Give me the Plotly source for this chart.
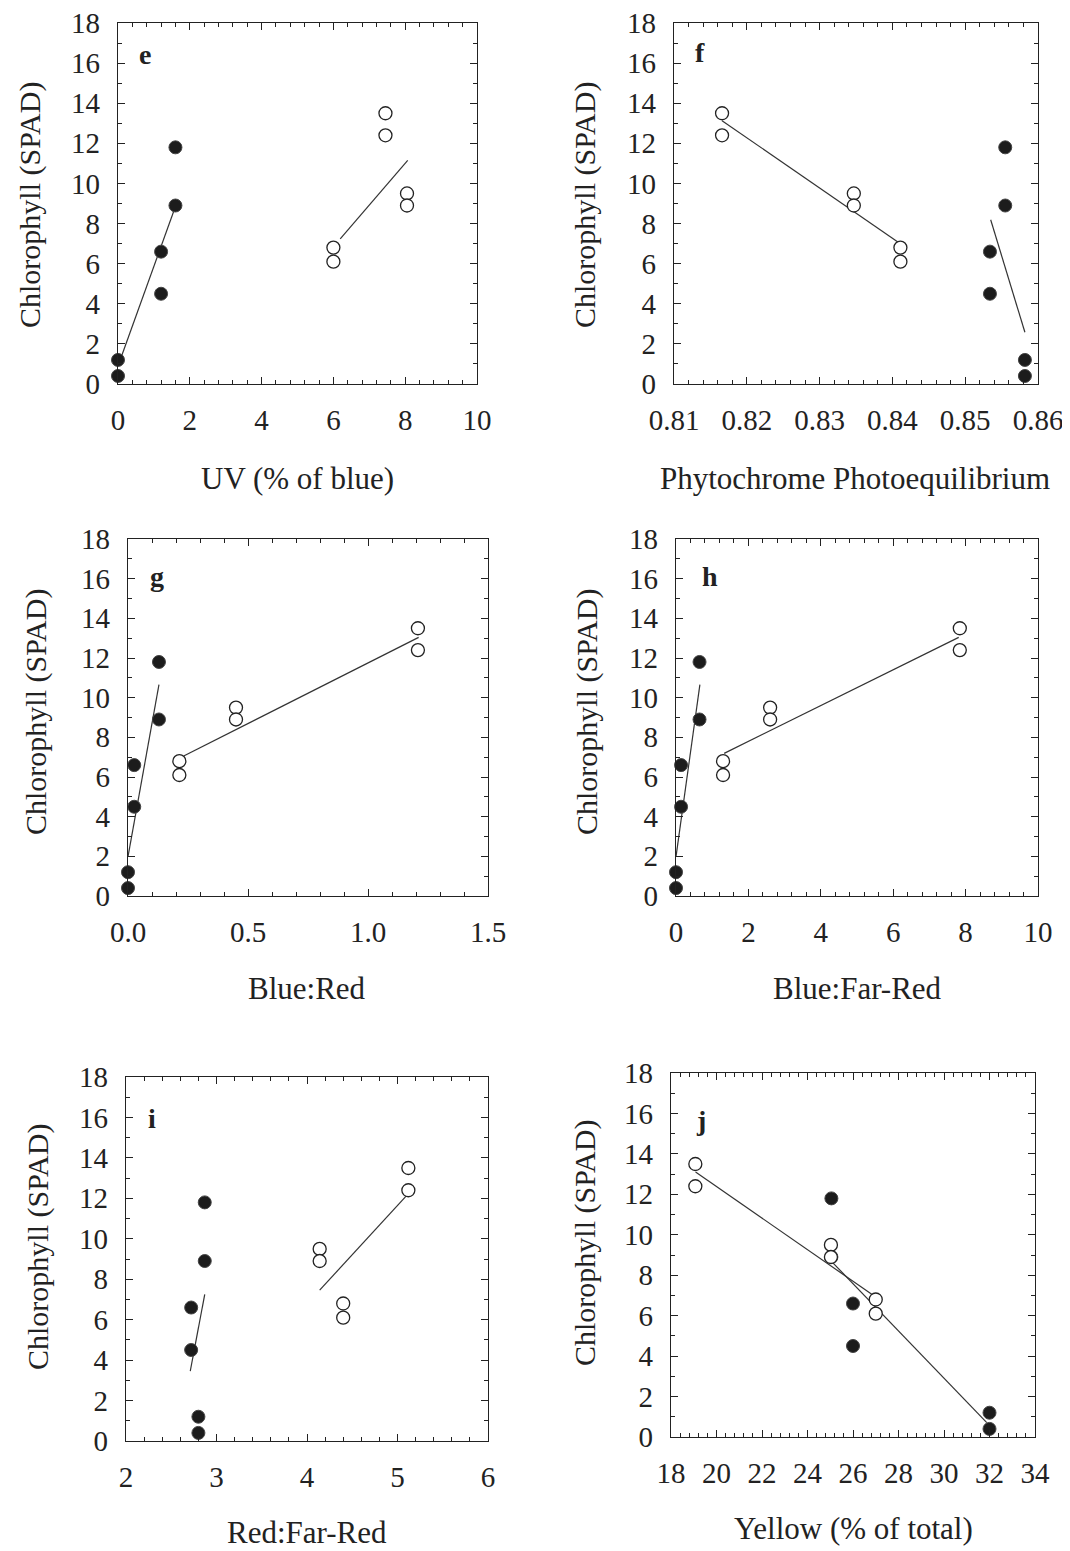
import plotly.graph_objects as go

# the page body has an 8px margin, so the figure is drawn 8px in from the window corner
OFF = 8
W, H = 1070 - OFF, 1551 - OFF

# Chlorophyll (SPAD) values, shared by all panels (pairs per treatment)
chl_filled = [1.2, 0.4, 6.6, 4.5, 11.8, 8.9]
chl_open = [6.8, 6.1, 13.5, 12.4, 9.5, 8.9]

# Panel e: UV (% of blue)
uv_filled = [0.0, 0.0, 1.2, 1.2, 1.6, 1.6]
uv_open = [6.0, 6.0, 7.45, 7.45, 8.05, 8.05]
uv_fit_filled_x = [0.03, 1.59]
uv_fit_filled_y = [1.05, 8.8]
uv_fit_open_x = [6.19, 8.07]
uv_fit_open_y = [7.24, 11.15]

# Panel f: Phytochrome photoequilibrium
pe_filled = [0.8582, 0.8582, 0.8534, 0.8534, 0.8555, 0.8555]
pe_open = [0.8411, 0.8411, 0.8166, 0.8166, 0.8347, 0.8347]
pe_fit_filled_x = [0.8535, 0.8582]
pe_fit_filled_y = [8.19, 2.58]
pe_fit_open_x = [0.8166, 0.8408]
pe_fit_open_y = [13.13, 7.07]

# Panel g: Blue:Red
br_filled = [0.0, 0.0, 0.026, 0.026, 0.129, 0.129]
br_open = [0.214, 0.214, 1.208, 1.208, 0.45, 0.45]
br_fit_filled_x = [0.0, 0.129]
br_fit_filled_y = [1.98, 10.66]
br_fit_open_x = [0.232, 1.211]
br_fit_open_y = [7.06, 13.04]

# Panel h: Blue:Far-Red
bfr_filled = [0.0, 0.0, 0.14, 0.14, 0.65, 0.65]
bfr_open = [1.3, 1.3, 7.84, 7.84, 2.6, 2.6]
bfr_fit_filled_x = [0.0, 0.66]
bfr_fit_filled_y = [1.98, 10.66]
bfr_fit_open_x = [1.33, 7.81]
bfr_fit_open_y = [7.19, 13.04]

# Panel i: Red:Far-Red
rfr_filled = [2.80, 2.80, 2.72, 2.72, 2.87, 2.87]
rfr_open = [4.40, 4.40, 5.12, 5.12, 4.14, 4.14]
rfr_fit_filled_x = [2.71, 2.87]
rfr_fit_filled_y = [3.46, 7.25]
rfr_fit_open_x = [4.14, 5.10]
rfr_fit_open_y = [7.46, 12.13]

# Panel j: Yellow (% of total)
yel_filled = [32.0, 32.0, 26.0, 26.0, 25.05, 25.05]
yel_open = [27.0, 27.0, 19.07, 19.07, 25.03, 25.03]
yel_fit_filled_x = [25.0, 31.88]
yel_fit_filled_y = [8.75, 0.71]
yel_fit_open_x = [19.08, 27.03]
yel_fit_open_y = [13.1, 6.9]

FONT = "Liberation Serif"
INK = "#222222"

# panel boxes in window pixels: (left, right, top, bottom)
panels = [
    dict(letter="e", box=(118, 477, 23, 384), xr=[0, 10], dt=2, mdt=0.4, fmt="",
         xf=uv_filled, xo=uv_open, ffx=uv_fit_filled_x, ffy=uv_fit_filled_y,
         fox=uv_fit_open_x, foy=uv_fit_open_y,
         xtitle="UV (% of blue)", xt_pos=(297, 479), yt_pos=(30, 205), let_pos=(145, 55)),
    dict(letter="f", box=(674, 1038, 23, 384), xr=[0.81, 0.86], dt=0.01, mdt=0.002, fmt=".2f",
         xf=pe_filled, xo=pe_open, ffx=pe_fit_filled_x, ffy=pe_fit_filled_y,
         fox=pe_fit_open_x, foy=pe_fit_open_y,
         xtitle="Phytochrome Photoequilibrium", xt_pos=(855, 479), yt_pos=(585, 205), let_pos=(700, 52)),
    dict(letter="g", box=(128, 488, 539, 896), xr=[0, 1.5], dt=0.5, mdt=0.1, fmt=".1f",
         xf=br_filled, xo=br_open, ffx=br_fit_filled_x, ffy=br_fit_filled_y,
         fox=br_fit_open_x, foy=br_fit_open_y,
         xtitle="Blue:Red", xt_pos=(307, 988), yt_pos=(36, 712), let_pos=(157, 577)),
    dict(letter="h", box=(676, 1038, 539, 896), xr=[0, 10], dt=2, mdt=0.4, fmt="",
         xf=bfr_filled, xo=bfr_open, ffx=bfr_fit_filled_x, ffy=bfr_fit_filled_y,
         fox=bfr_fit_open_x, foy=bfr_fit_open_y,
         xtitle="Blue:Far-Red", xt_pos=(857, 988), yt_pos=(587, 712), let_pos=(710, 577)),
    dict(letter="i", box=(126, 488, 1077, 1441), xr=[2, 6], dt=1, mdt=0.2, fmt="",
         xf=rfr_filled, xo=rfr_open, ffx=rfr_fit_filled_x, ffy=rfr_fit_filled_y,
         fox=rfr_fit_open_x, foy=rfr_fit_open_y,
         xtitle="Red:Far-Red", xt_pos=(307, 1532), yt_pos=(38, 1247), let_pos=(152, 1118)),
    dict(letter="j", box=(671, 1035, 1073, 1437), xr=[18, 34], dt=2, mdt=0.4, fmt="",
         xf=yel_filled, xo=yel_open, ffx=yel_fit_filled_x, ffy=yel_fit_filled_y,
         fox=yel_fit_open_x, foy=yel_fit_open_y,
         xtitle="Yellow (% of total)", xt_pos=(853, 1528), yt_pos=(585, 1243), let_pos=(701, 1120)),
]

fig = go.Figure()
layout = dict(
    width=W, height=H,
    margin=dict(l=0, r=0, t=0, b=0, pad=0, autoexpand=False),
    paper_bgcolor="white", plot_bgcolor="white",
    showlegend=False,
    font=dict(family=FONT, color=INK, size=29),
)
annotations = []

def px(x):
    return (x - OFF) / W

def py(y):
    return 1 - (y - OFF) / H

for i, p in enumerate(panels):
    n = i + 1
    xa = "x" if n == 1 else f"x{n}"
    ya = "y" if n == 1 else f"y{n}"
    l, r, t, b = p["box"]
    common = dict(
        showline=True, linecolor=INK, linewidth=1.2, mirror="allticks",
        ticks="inside", ticklen=7, tickwidth=1.2, tickcolor=INK,
        showgrid=False, zeroline=False, fixedrange=True, automargin=False,
        ticklabeloverflow="allow",
        tickfont=dict(family=FONT, size=29, color=INK),
    )
    layout[f"xaxis{'' if n == 1 else n}"] = dict(
        common, domain=[px(l), px(r)], anchor=ya, range=p["xr"],
        tick0=p["xr"][0], dtick=p["dt"], tickformat=p["fmt"],
        minor=dict(ticks="inside", ticklen=4, tickwidth=1, tickcolor=INK, dtick=p["mdt"], tick0=p["xr"][0]),
        ticklabelstandoff=10,
    )
    layout[f"yaxis{'' if n == 1 else n}"] = dict(
        common, domain=[py(b), py(t)], anchor=xa, range=[0, 18],
        tick0=0, dtick=2,
        minor=dict(ticks="inside", ticklen=4, tickwidth=1, tickcolor=INK, dtick=1, tick0=0),
        ticklabelstandoff=11,
    )
    # fit lines
    fig.add_trace(go.Scatter(x=p["ffx"], y=p["ffy"], mode="lines", xaxis=xa, yaxis=ya,
                             line=dict(color="#333333", width=1.2), cliponaxis=False))
    fig.add_trace(go.Scatter(x=p["fox"], y=p["foy"], mode="lines", xaxis=xa, yaxis=ya,
                             line=dict(color="#333333", width=1.2), cliponaxis=False))
    # filled points
    fig.add_trace(go.Scatter(x=p["xf"], y=chl_filled, mode="markers", xaxis=xa, yaxis=ya,
                             marker=dict(size=13, color="#1c1c1c", line=dict(color="#444444", width=1)),
                             cliponaxis=False))
    # open points
    fig.add_trace(go.Scatter(x=p["xo"], y=chl_open, mode="markers", xaxis=xa, yaxis=ya,
                             marker=dict(size=13, color="white", line=dict(color="#222222", width=1.3)),
                             cliponaxis=False))
    # axis titles and panel letter
    annotations.append(dict(text=p["xtitle"], x=px(p["xt_pos"][0]), y=py(p["xt_pos"][1]),
                            xref="paper", yref="paper", showarrow=False,
                            xanchor="center", yanchor="middle",
                            font=dict(family=FONT, size=31, color=INK)))
    annotations.append(dict(text="Chlorophyll (SPAD)", x=px(p["yt_pos"][0]), y=py(p["yt_pos"][1]),
                            xref="paper", yref="paper", showarrow=False, textangle=-90,
                            xanchor="center", yanchor="middle",
                            font=dict(family=FONT, size=30, color=INK)))
    annotations.append(dict(text=f"<b>{p['letter']}</b>", x=px(p["let_pos"][0]), y=py(p["let_pos"][1]),
                            xref="paper", yref="paper", showarrow=False,
                            xanchor="center", yanchor="middle",
                            font=dict(family=FONT, size=28, color=INK)))

layout["annotations"] = annotations
fig.update_layout(**layout)
fig.write_html("out.html")
